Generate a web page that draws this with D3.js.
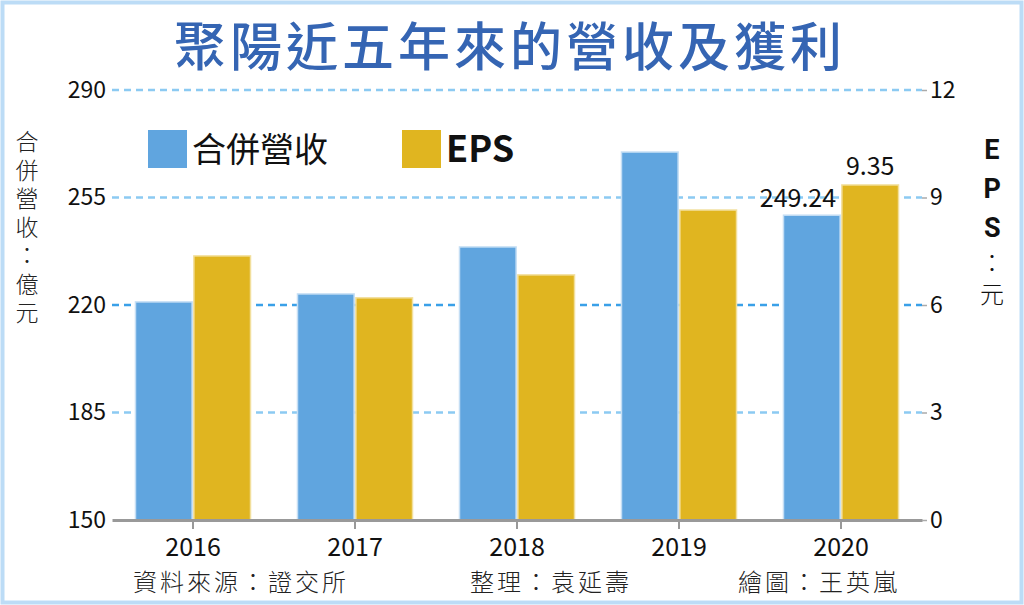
<!DOCTYPE html>
<html>
<head>
<meta charset="utf-8">
<style>
  body { margin: 0; background: #fff; }
  svg text { font-family: "Noto Sans CJK TC", "Noto Sans", sans-serif; }
  .vert { writing-mode: vertical-rl; text-orientation: upright; }
</style>
</head>
<body>
<div id="chart"></div>
<script src="https://d3js.org/d3.v7.min.js"></script>
<script>
const years = ['2016', '2017', '2018', '2019', '2020'];
const revenue = [221.0, 223.6, 238.9, 269.8, 249.24];
const eps = [7.37, 6.2, 6.84, 8.65, 9.35];
const leftTicks = [150, 185, 220, 255, 290];
const rightTicks = [0, 3, 6, 9, 12];

const W = 1024, H = 605;
const blue = '#60a5df', gold = '#e0b520';

const svg = d3.select('#chart').append('svg')
  .attr('width', W).attr('height', H);

// frame
svg.append('rect')
  .attr('x', 2.5).attr('y', 2.5).attr('width', W - 5).attr('height', H - 5)
  .attr('fill', '#fff').attr('stroke', '#bcdcf6').attr('stroke-width', 4);

const x0 = d3.scaleBand().domain(years).range([112, 922]).paddingInner(0.29).paddingOuter(0.145);
const x1 = d3.scaleBand().domain(['rev', 'eps']).range([0, x0.bandwidth()]).paddingInner(0.03);
const yL = d3.scaleLinear().domain([150, 290]).range([520, 90]);
const yR = d3.scaleLinear().domain([0, 12]).range([520, 90]);

// title
svg.append('text')
  .attr('x', 510).attr('y', 66).attr('text-anchor', 'middle')
  .attr('font-size', 52).attr('font-weight', 500).attr('fill', '#3565b3')
  .attr('letter-spacing', 4)
  .text('聚陽近五年來的營收及獲利');

// grid lines
svg.append('g').selectAll('line')
  .data(leftTicks.filter(d => d !== 150))
  .join('line')
  .attr('x1', 112).attr('x2', 922)
  .attr('y1', d => yL(d)).attr('y2', d => yL(d))
  .attr('stroke', d => d === 220 ? '#3aa0e8' : '#8ccaf2')
  .attr('stroke-width', 2.5)
  .attr('stroke-dasharray', '7,5');

// bars
const groups = svg.append('g').selectAll('g')
  .data(years.map((y, i) => ({ year: y, rev: revenue[i], eps: eps[i] })))
  .join('g')
  .attr('transform', d => `translate(${x0(d.year)},0)`);

groups.append('rect')
  .attr('x', x1('rev')).attr('width', x1.bandwidth())
  .attr('y', d => yL(d.rev)).attr('height', d => yL(150) - yL(d.rev))
  .attr('fill', blue).attr('stroke', '#c4def4').attr('stroke-width', 1.5);

groups.append('rect')
  .attr('x', x1('eps')).attr('width', x1.bandwidth())
  .attr('y', d => yR(d.eps)).attr('height', d => yR(0) - yR(d.eps))
  .attr('fill', gold).attr('stroke', '#f2df9c').attr('stroke-width', 1.5);

// value labels for 2020
const last = years.length - 1;
svg.append('text')
  .attr('x', x0(years[last]) + x1('rev') + x1.bandwidth() - 4)
  .attr('y', yL(revenue[last]) - 8)
  .attr('text-anchor', 'end').attr('font-size', 25).attr('fill', '#111')
  .attr('font-family', 'Roboto, sans-serif')
  .text(revenue[last].toFixed(2));
svg.append('text')
  .attr('x', x0(years[last]) + x1('eps') + x1.bandwidth() / 2)
  .attr('y', yR(eps[last]) - 10)
  .attr('text-anchor', 'middle').attr('font-size', 25).attr('fill', '#111')
  .attr('font-family', 'Roboto, sans-serif')
  .text(eps[last].toFixed(2));

// baseline + x axis
const xAxis = svg.append('g')
  .attr('transform', `translate(0,${yL(150)})`)
  .call(d3.axisBottom(x0).tickSize(9).tickSizeOuter(0).tickPadding(9));
xAxis.select('.domain').attr('stroke', '#999').attr('stroke-width', 3);
xAxis.selectAll('.tick line').attr('stroke', '#999').attr('stroke-width', 2);
xAxis.selectAll('.tick text')
  .attr('font-size', 25).attr('fill', '#111')
  .attr('font-family', '"DejaVu Sans Condensed", "Liberation Sans Narrow", sans-serif');

// left axis
const left = svg.append('g')
  .attr('transform', 'translate(106,0)')
  .call(d3.axisLeft(yL).tickValues(leftTicks).tickSize(0).tickPadding(0));
left.select('.domain').remove();
left.selectAll('.tick text')
  .attr('font-size', 23).attr('fill', '#111')
  .attr('font-family', 'Roboto, sans-serif');

// right axis
const right = svg.append('g')
  .attr('transform', 'translate(922,0)')
  .call(d3.axisRight(yR).tickValues(rightTicks).tickSize(5).tickPadding(3));
right.select('.domain').remove();
right.selectAll('.tick line').attr('stroke', '#aaa').attr('stroke-width', 1.5);
right.selectAll('.tick text')
  .attr('font-size', 23).attr('fill', '#111')
  .attr('font-family', 'Roboto, sans-serif');

// axis titles (vertical)
svg.append('text')
  .attr('class', 'vert')
  .attr('x', 27).attr('y', 130)
  .attr('font-size', 23).attr('fill', '#222').attr('font-weight', 300)
  .attr('letter-spacing', 5.5)
  .text('合併營收：億元');

const rightTitle = svg.append('text')
  .attr('class', 'vert')
  .attr('x', 992).attr('y', 134)
  .attr('fill', '#111').attr('letter-spacing', 7);
rightTitle.append('tspan')
  .attr('font-size', 27).attr('font-weight', 700)
  .attr('font-family', 'Roboto, sans-serif')
  .text('EPS');
rightTitle.append('tspan')
  .attr('font-size', 24).attr('font-weight', 300)
  .text('：元');

// legend
const legend = [
  { label: '合併營收', color: blue, x: 148, bold: false, size: 34 },
  { label: 'EPS', color: gold, x: 402, bold: true, size: 36 }
];
const lg = svg.append('g').selectAll('g').data(legend).join('g')
  .attr('transform', d => `translate(${d.x},130)`);
lg.append('rect').attr('width', 39).attr('height', 38).attr('fill', d => d.color);
lg.append('text')
  .attr('x', 44).attr('y', 32).attr('font-size', d => d.size).attr('fill', '#111')
  .attr('font-weight', d => d.bold ? 700 : 400)
  .attr('font-family', d => d.bold ? 'Roboto, sans-serif' : null)
  .text(d => d.label);

// footer
const footer = [
  { text: '資料來源：證交所', x: 133 },
  { text: '整理：袁延壽', x: 470 },
  { text: '繪圖：王英嵐', x: 738 }
];
svg.append('g').selectAll('text').data(footer).join('text')
  .attr('x', d => d.x).attr('y', 591)
  .attr('font-size', 24).attr('fill', '#222').attr('font-weight', 300)
  .attr('letter-spacing', 3)
  .text(d => d.text);
</script>
</body>
</html>
